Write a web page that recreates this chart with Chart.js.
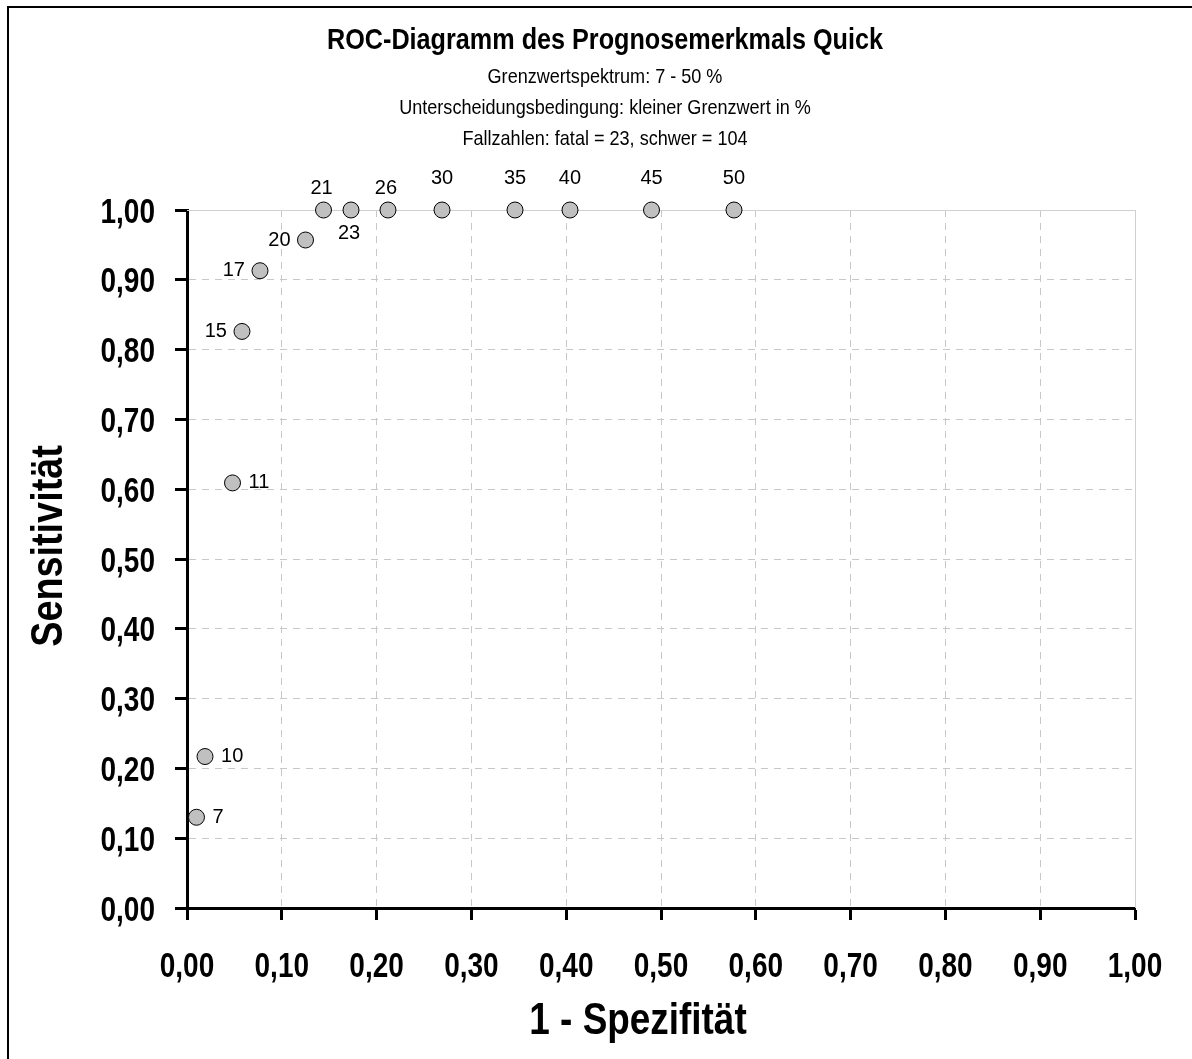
<!DOCTYPE html>
<html>
<head>
<meta charset="utf-8">
<title>ROC-Diagramm Quick</title>
<script src="https://cdn.jsdelivr.net/npm/chart.js@4.4.1/dist/chart.umd.min.js"></script>
<style>
  html, body { margin: 0; padding: 0; background: #fff; }
  canvas { display: block; }
</style>
</head>
<body>
<canvas id="roc" width="1192" height="1059"></canvas>
<script>
// Grenzwerte (Quick in %)
const grenzwerte = [7, 10, 11, 15, 17, 20, 21, 23, 26, 30, 35, 40, 45, 50];
// 1 - Spezifitaet (x)
const einsMinusSpez = [0.010, 0.019, 0.048, 0.058, 0.077, 0.125, 0.144, 0.173, 0.212, 0.269, 0.346, 0.404, 0.490, 0.577];
// Sensitivitaet (y)
const sensitivitaet = [0.130, 0.217, 0.609, 0.826, 0.913, 0.957, 1.0, 1.0, 1.0, 1.0, 1.0, 1.0, 1.0, 1.0];
// Achsenbeschriftung
const achsenTicks = [0, 0.1, 0.2, 0.3, 0.4, 0.5, 0.6, 0.7, 0.8, 0.9, 1.0];

const titel = 'ROC-Diagramm des Prognosemerkmals Quick';
const untertitel = [
    'Grenzwertspektrum: 7 - 50 %',
    'Unterscheidungsbedingung: kleiner Grenzwert in %',
    'Fallzahlen: fatal = 23, schwer = 104'
];

// wo die Beschriftung am Punkt steht
const beschriftungLage = ['r', 'r', 'r', 'l', 'l', 'l', 'o', 'u', 'o', 'oo', 'oo', 'oo', 'oo', 'oo'];

const schrift = "'Liberation Sans', Arial, sans-serif";

const fmt = v => v.toFixed(2).replace('.', ',');

// schmal gestauchter Text (wie Arial Narrow)
function schmal(c, txt, x, y, sx, align) {
    c.save();
    c.translate(x, y);
    c.scale(sx, 1);
    c.textAlign = align || 'center';
    c.fillText(txt, 0, 0);
    c.restore();
}

// Rahmen, Titel, Achsentitel, Achsenzahlen und Punktbeschriftungen
const extras = {
    id: 'extras',
    beforeDraw(chart) {
        const c = chart.ctx;
        c.save();
        c.fillStyle = '#fff';
        c.fillRect(0, 0, chart.width, chart.height);
        c.strokeStyle = '#000';
        c.lineWidth = 2;
        c.beginPath();
        c.moveTo(8, chart.height);
        c.lineTo(8, 7);
        c.lineTo(chart.width, 7);
        c.stroke();
        c.restore();
    },
    beforeDatasetsDraw(chart) {
        const c = chart.ctx;
        const a = chart.chartArea;
        // obere und rechte Begrenzung der Zeichenflaeche
        c.save();
        c.strokeStyle = '#d0d0d0';
        c.lineWidth = 1;
        c.beginPath();
        c.moveTo(a.left, a.top + 0.5);
        c.lineTo(a.right + 0.5, a.top + 0.5);
        c.lineTo(a.right + 0.5, a.bottom);
        c.stroke();
        c.restore();
    },
    afterDatasetsDraw(chart) {
        const c = chart.ctx;
        c.save();
        c.fillStyle = '#000';
        c.textBaseline = 'middle';
        c.font = 'bold 30px ' + schrift;
        schmal(c, titel, 605, 41, 0.84);
        c.font = '21px ' + schrift;
        untertitel.forEach((t, i) => schmal(c, t, 605, 77 + i * 31, 0.86));

        // Achsenzahlen
        c.font = 'bold 35px ' + schrift;
        const sx = chart.scales.x, sy = chart.scales.y;
        sx.ticks.forEach(t => schmal(c, fmt(t.value), sx.getPixelForValue(t.value), 967, 0.8));
        sy.ticks.forEach(t => schmal(c, fmt(t.value), 155, sy.getPixelForValue(t.value) + 3, 0.8, 'right'));

        // Achsentitel
        c.font = 'bold 45px ' + schrift;
        schmal(c, '1 - Spezifität', 638, 1022, 0.82);
        c.save();
        c.translate(50, 546);
        c.rotate(-Math.PI / 2);
        schmal(c, 'Sensitivität', 0, 0, 0.84);
        c.restore();

        // Punktbeschriftung
        c.font = '20px ' + schrift;
        const meta = chart.getDatasetMeta(0);
        meta.data.forEach((p, i) => {
            const lage = beschriftungLage[i];
            const txt = String(grenzwerte[i]);
            if (lage === 'r') {
                c.textAlign = 'left';
                c.fillText(txt, p.x + 16, p.y);
            } else if (lage === 'l') {
                c.textAlign = 'right';
                c.fillText(txt, p.x - 15, p.y);
            } else if (lage === 'o') {
                c.textAlign = 'center';
                c.fillText(txt, p.x - 2, p.y - 22);
            } else if (lage === 'u') {
                c.textAlign = 'center';
                c.fillText(txt, p.x - 2, p.y + 23);
            } else {
                c.textAlign = 'center';
                c.fillText(txt, p.x, p.y - 32);
            }
        });
        c.restore();
    }
};

const achse = () => ({
    type: 'linear',
    min: 0,
    max: 1,
    afterBuildTicks: ax => { ax.ticks = achsenTicks.map(v => ({ value: v })); },
    grid: {
        color: '#c8c8c8',
        lineWidth: 1,
        tickColor: '#000',
        tickWidth: 3,
        tickLength: 12
    },
    border: {
        display: true,
        color: '#000',
        width: 3,
        dash: [7, 6]
    },
    ticks: { display: false }
});

const xAchse = achse();
xAchse.position = 'bottom';
xAchse.afterFit = ax => { ax.height = 1059 - 908; };

const yAchse = achse();
yAchse.position = 'left';
yAchse.afterFit = ax => { ax.width = 187; };

new Chart(document.getElementById('roc').getContext('2d'), {
    type: 'scatter',
    data: {
        datasets: [{
            label: 'Quick',
            data: einsMinusSpez.map((x, i) => ({ x: x, y: sensitivitaet[i] })),
            backgroundColor: '#c0c0c0',
            borderColor: '#000',
            borderWidth: 1,
            pointRadius: 8,
            pointHoverRadius: 8,
            clip: false
        }]
    },
    options: {
        responsive: false,
        animation: false,
        devicePixelRatio: 1,
        layout: { padding: { top: 210, right: 57, bottom: 0, left: 0 } },
        plugins: {
            legend: { display: false },
            tooltip: { enabled: false }
        },
        scales: { x: xAchse, y: yAchse }
    },
    plugins: [extras]
});
</script>
</body>
</html>
